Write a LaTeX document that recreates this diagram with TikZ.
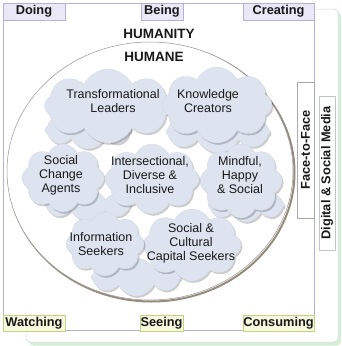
\documentclass[tikz,border=0pt]{standalone}
\usepackage{fontspec}
\setmainfont{Liberation Sans}
\usetikzlibrary{shapes.symbols,shadows}
\definecolor{cloudfill}{RGB}{221,227,239}
\definecolor{cloudline}{RGB}{212,219,232}
\definecolor{lavline}{RGB}{182,176,214}
\definecolor{lavfill}{RGB}{234,231,246}
\definecolor{grnline}{RGB}{196,210,130}
\definecolor{grnfill}{RGB}{246,249,222}
\definecolor{txt}{RGB}{25,25,25}
\definecolor{ringline}{RGB}{150,150,150}
\definecolor{ringshadow}{RGB}{150,140,125}
\definecolor{backline}{RGB}{205,215,222}
\definecolor{backshadow}{RGB}{214,238,214}
\definecolor{sidebox}{RGB}{170,170,170}
\begin{document}
\begin{tikzpicture}[x=1pt,y=-1pt,
 lbl/.style={font=\bfseries\fontsize{12.8}{15}\selectfont, text=txt, inner sep=0pt},
 topbox/.style={lbl, draw=lavline, fill=lavfill, line width=0.6pt, minimum height=17},
 botbox/.style={lbl, draw=grnline, fill=grnfill, line width=0.6pt, minimum height=16},
 sidebx/.style={lbl, draw=sidebox, fill=white, line width=0.5pt, rotate=90},
 puff/.style={cloud, cloud puffs=8, cloud puff arc=130, cloud ignores aspect, fill=cloudfill, draw=cloudline, line width=0.3pt, inner sep=0pt, drop shadow={shadow xshift=1.5pt, shadow yshift=-1.8pt, opacity=0.2, fill=black}},
 ctext/.style={font=\fontsize{12.5}{14}\selectfont, text=txt, align=center, inner sep=0pt}]
\useasboundingbox (0,0) rectangle (341,346);
% back panel
\fill[backshadow, rounded corners=4pt] (29,12) rectangle (341,345.5);
\draw[backline, fill=white, line width=0.5pt, rounded corners=4pt] (26,9) rectangle (338,342);
% front panel
\draw[lavline, fill=white, line width=0.6pt] (3,3) rectangle (314,330);
% ring
\draw[ringshadow, line width=2pt] (151.5,172.5) ellipse [x radius=143, y radius=129];
\draw[ringline, fill=white, line width=0.5pt] (150,171) ellipse [x radius=143, y radius=129];
% headings
\node[lbl, font=\bfseries\fontsize{13.5}{15}\selectfont] (humanity) at (159,34) {HUMANITY};
\node[lbl, font=\bfseries\fontsize{13.5}{15}\selectfont] (humane) at (154,57) {HUMANE};
% background cloud fillers
\node[puff, minimum width=86, minimum height=38] (f1) at (88,130) {};
\node[puff, minimum width=104, minimum height=42] (f2) at (218,132) {};
\node[puff, minimum width=86, minimum height=32] (f3) at (88,205) {};
\node[puff, minimum width=76, minimum height=34] (f4) at (246,205) {};
\node[puff, minimum width=90, minimum height=38] (c8) at (136,277) {};
% clouds
\node[puff, minimum width=127, minimum height=74] (c1) at (108,106) {};
\node[puff, minimum width=110, minimum height=76] (c2) at (217,105) {};
\node[puff, minimum width=82, minimum height=68] (c3) at (63,178) {};
\node[puff, minimum width=82, minimum height=74] (c5) at (241,181) {};
\node[puff, minimum width=94, minimum height=70] (c4) at (152,179) {};
\node[puff, minimum width=98, minimum height=72] (c7) at (192,245) {};
\node[puff, minimum width=78, minimum height=64] (c6) at (105,244) {};
% cloud texts
\node[ctext] (t1) at (113,101) {Transformational\\Leaders};
\node[ctext] (t2) at (208,101) {Knowledge\\Creators};
\node[ctext] (t3) at (61,175) {Social\\Change\\Agents};
\node[ctext] (t4) at (150,175) {Intersectional,\\Diverse \&\\Inclusive};
\node[ctext] (t5) at (240,175) {Mindful,\\Happy\\\& Social};
\node[ctext] (t6) at (101,244) {Information\\Seekers};
\node[ctext] (t7) at (191,243) {Social \&\\Cultural\\Capital Seekers};
% top labels
\node[topbox, minimum width=62] (doing) at (34,11.5) {Doing};
\node[topbox, minimum width=42] (being) at (162,11.5) {Being};
\node[topbox, minimum width=71] (creating) at (278.5,11.5) {Creating};
% bottom labels
\node[botbox, minimum width=62] (watching) at (34,323) {Watching};
\node[botbox, minimum width=43] (seeing) at (161.5,323) {Seeing};
\node[botbox, minimum width=71] (consuming) at (278.5,323) {Consuming};
% side labels
\node[sidebx, minimum width=136, minimum height=17] (f2f) at (305.5,150) {Face-to-Face};
\node[sidebx, minimum width=154, minimum height=16, draw=backline!80!gray] (dsm) at (327,173) {Digital \& Social Media};
\end{tikzpicture}
\end{document}
